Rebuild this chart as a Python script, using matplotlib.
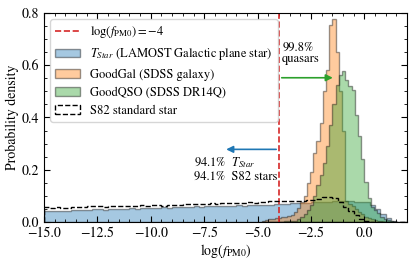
import matplotlib
matplotlib.use("Agg")
import matplotlib.pyplot as plt
import numpy as np
from matplotlib.ticker import AutoMinorLocator

plt.rcParams['font.family'] = ['STIXGeneral', 'DejaVu Serif']
plt.rcParams['mathtext.fontset'] = 'stix'

# star samples: bins of 0.25 from -15 to 2
star_edges = np.linspace(-15, 2, 69)
tstar_vals = [0.043, 0.041, 0.042, 0.044, 0.043, 0.045, 0.046, 0.045,
              0.047, 0.049, 0.048, 0.047, 0.049, 0.050, 0.049, 0.051,
              0.052, 0.051, 0.053, 0.054, 0.053, 0.055, 0.056, 0.055,
              0.057, 0.058, 0.057, 0.059, 0.060, 0.059, 0.061, 0.062,
              0.061, 0.063, 0.062, 0.063, 0.064, 0.063, 0.065, 0.064,
              0.065, 0.066, 0.067, 0.068, 0.069, 0.070, 0.071, 0.072,
              0.073, 0.074, 0.075, 0.076, 0.077, 0.078, 0.079, 0.080,
              0.080, 0.079, 0.078, 0.077, 0.075, 0.065, 0.048, 0.032,
              0.016, 0.004, 0.0, 0.0]
s82_vals = [0.057, 0.055, 0.056, 0.054, 0.055, 0.057, 0.056, 0.058,
            0.060, 0.062, 0.061, 0.059, 0.060, 0.061, 0.063, 0.062,
            0.061, 0.063, 0.064, 0.062, 0.064, 0.065, 0.063, 0.066,
            0.067, 0.066, 0.068, 0.069, 0.068, 0.070, 0.069, 0.071,
            0.070, 0.072, 0.071, 0.073, 0.074, 0.072, 0.075, 0.074,
            0.076, 0.078, 0.079, 0.080, 0.081, 0.080, 0.082, 0.081,
            0.080, 0.083, 0.086, 0.090, 0.095, 0.096, 0.093, 0.075,
            0.058, 0.044, 0.028, 0.012, 0.005, 0.002, 0.001, 0.0,
            0.0, 0.0, 0.0, 0.0]

# extragalactic samples: bins of 0.15 from -4.8 to 1.5
xgal_edges = np.linspace(-4.8, 1.5, 43)
gal_vals = [0.005, 0.008, 0.010, 0.012, 0.015, 0.015, 0.018, 0.020,
            0.022, 0.027, 0.040, 0.054, 0.075, 0.100, 0.150, 0.190,
            0.265, 0.310, 0.380, 0.500, 0.580, 0.755, 0.775, 0.650,
            0.500, 0.350, 0.080, 0.070, 0.060, 0.050, 0.040, 0.030,
            0.020, 0.015, 0.010, 0.008, 0.005, 0.003, 0.0, 0.0,
            0.0, 0.0]
qso_vals = [0.0, 0.0, 0.0, 0.0, 0.0, 0.001, 0.002, 0.003,
            0.004, 0.005, 0.005, 0.010, 0.020, 0.030, 0.045, 0.065,
            0.100, 0.140, 0.180, 0.226, 0.290, 0.370, 0.450, 0.525,
            0.563, 0.578, 0.544, 0.520, 0.505, 0.410, 0.330, 0.240,
            0.154, 0.092, 0.059, 0.045, 0.034, 0.020, 0.012, 0.006,
            0.003, 0.0]

cut = -4
frac_qso = "99.8%"
frac_star = "94.1%"

fig, ax = plt.subplots(figsize=(4.15, 2.64), dpi=100)
fig.subplots_adjust(left=0.106, right=0.981, bottom=0.159, top=0.951)

vline = ax.axvline(cut, color='#d62728', ls='--', lw=1.2,
                   label=r'$\log(f_{\rm PM0}) = -4$')
_, _, p_star = ax.hist(star_edges[:-1], bins=star_edges, weights=tstar_vals,
                       histtype='stepfilled', color='C0', alpha=0.4,
                       edgecolor='k', lw=1,
                       label=r'$T_{Star}$ (LAMOST Galactic plane star)')
_, _, p_gal = ax.hist(xgal_edges[:-1], bins=xgal_edges, weights=gal_vals,
                      histtype='stepfilled', color='C1', alpha=0.4,
                      edgecolor='k', lw=1, label='GoodGal (SDSS galaxy)')
_, _, p_qso = ax.hist(xgal_edges[:-1], bins=xgal_edges, weights=qso_vals,
                      histtype='stepfilled', color='C2', alpha=0.4,
                      edgecolor='k', lw=1, label='GoodQSO (SDSS DR14Q)')
_, _, p_s82 = ax.hist(star_edges[:-1], bins=star_edges, weights=s82_vals,
                      histtype='step', color='k', ls='--', lw=1,
                      label='S82 standard star')

ax.annotate('', xy=(-1.35, 0.552), xytext=(cut, 0.552),
            arrowprops=dict(arrowstyle='-|>', color='#2ca02c', lw=1.2))
ax.annotate('', xy=(-6.6, 0.278), xytext=(cut, 0.278),
            arrowprops=dict(arrowstyle='-|>', color='#1f77b4', lw=1.2))
ax.text(-3.85, 0.645, frac_qso + '\nquasars', fontsize=9, va='center',
        linespacing=1.0)
ax.text(-7.97, 0.228, frac_star + r'  $T_{Star}$', fontsize=9, va='center')
ax.text(-7.97, 0.172, frac_star + '  S82 stars', fontsize=9, va='center')

ax.set_xlim(-15, 2)
ax.set_ylim(0, 0.8)
ax.set_yticks([0.0, 0.2, 0.4, 0.6, 0.8])
ax.xaxis.set_minor_locator(AutoMinorLocator(5))
ax.yaxis.set_minor_locator(AutoMinorLocator(4))
ax.tick_params(which='both', direction='in', top=True, right=True, labelsize=10)
ax.tick_params(which='major', length=4)
ax.tick_params(which='minor', length=2)
ax.set_xlabel(r'$\log(f_{\rm PM0})$', fontsize=10, labelpad=1)
ax.set_ylabel('Probability density', fontsize=10, labelpad=2)

ax.legend(handles=[vline, p_star[0], p_gal[0], p_qso[0], p_s82[0]],
          loc='upper left', fontsize=9)

fig.savefig('out.png', dpi=100)
